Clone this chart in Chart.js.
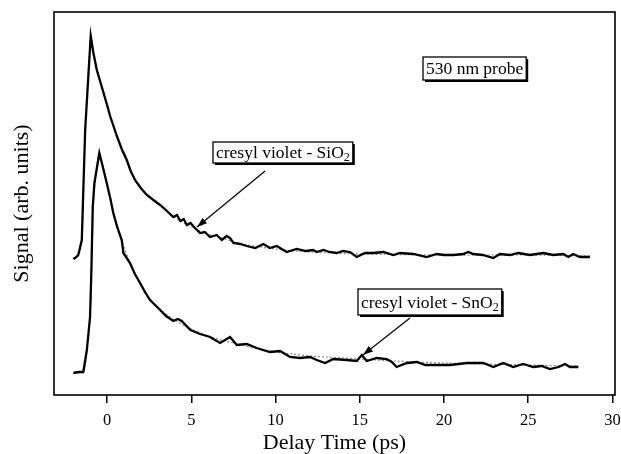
<!DOCTYPE html>
<html>
<head>
<meta charset="utf-8">
<script src="https://cdn.jsdelivr.net/npm/chart.js@4/dist/chart.umd.min.js"></script>
<style>
  html, body { margin: 0; padding: 0; background: #fff; }
  canvas { display: block; }
</style>
</head>
<body>
<canvas id="chart" width="621" height="454"></canvas>
<script>
// Delay times (ps) and signals (arb. units)
const sio2Time = [-2.0, -1.9, -1.71, -1.5, -1.3, -0.97, -0.81, -0.61, -0.31, 0.0, 0.18, 0.4, 0.58, 0.87, 1.17, 1.4,
  1.66, 2.0, 2.36, 2.75, 3.15, 3.55, 3.93, 4.15, 4.35, 4.55, 4.73, 4.95, 5.22, 5.52, 5.8, 6.11, 6.51, 6.81, 7.1,
  7.3, 7.5, 7.9, 8.29, 8.8, 9.28, 9.67, 10.07, 10.66, 11.26, 11.8, 12.24, 12.45, 12.84, 13.2, 13.63, 14.0, 14.42,
  14.82, 15.31, 15.8, 16.4, 16.99, 17.39, 18.18, 18.97, 19.57, 20.0, 20.55, 21.15, 21.44, 21.74, 22.3, 22.93, 23.32,
  23.92, 24.41, 25.1, 25.5, 25.89, 26.49, 27.08, 27.38, 27.67, 28.07, 28.66];
const sio2Signal = [136, 137, 140, 155, 265, 359, 342, 325, 308, 290, 279, 268, 259, 246, 235, 224,
  215, 207, 200, 195, 190, 184, 178, 180, 174, 176, 170, 172, 167, 162, 163, 158, 160, 155, 159,
  157, 152, 151, 149, 147, 151, 147, 149, 143, 146, 144, 145, 143, 145, 143, 142, 144, 143,
  138, 142, 142, 143, 140, 142, 141, 138, 141, 140, 140, 141, 143, 141, 140, 137, 141,
  140, 142, 140, 141, 142, 140, 141, 138, 141, 138, 138];

const sno2Time = [-2.0, -1.7, -1.41, -1.2, -1.01, -0.93, -0.85, -0.75, -0.46, -0.25, -0.02, 0.2, 0.37, 0.6, 0.87,
  0.97, 1.36, 1.65, 1.96, 2.25, 2.55, 3.15, 3.5, 3.93, 4.2, 4.43, 4.95, 5.52, 5.92, 6.11, 6.71, 7.3, 7.7, 8.29, 8.88,
  9.67, 10.27, 10.86, 11.45, 12.05, 12.45, 12.94, 13.43, 14.23, 14.82, 15.12, 15.41, 16.01, 16.6, 16.9, 17.19, 17.8,
  18.38, 18.9, 19.37, 20.36, 21.35, 22.33, 22.93, 23.52, 24.11, 24.7, 25.3, 25.8, 26.29, 26.8, 27.18, 27.48, 27.97];
const sno2Signal = [22, 23, 23, 45, 78, 125, 188, 212, 242, 228, 212, 196, 182, 168, 155,
  142, 132, 121, 112, 103, 95, 85, 79, 74, 76, 74, 65, 61, 59, 58, 52, 58, 50, 51, 47,
  43, 44, 38, 37, 38, 35, 32, 36, 35, 34, 40, 34, 37, 36, 33, 28, 32,
  33, 30, 30, 30, 32, 32, 28, 32, 28, 31, 28, 29, 26, 28, 31, 28, 28];

// Fitted curves (dotted)
const sio2FitTime = [-2.0, -1.7, -1.5, -1.3, -0.97, -0.8, -0.3, 0.2, 0.9, 1.7, 2.4, 3.2, 4.0, 5.0, 6.0, 7.0, 8.0,
  10.0, 12.0, 15.0, 20.0, 25.0, 28.7];
const sio2FitSignal = [137, 139, 155, 265, 357, 342, 308, 278, 244, 214, 200, 189, 178, 168, 161, 156, 151,
  146, 143, 141, 140, 140, 139];
const sno2FitTime = [-2.0, -1.4, -1.2, -1.0, -0.9, -0.8, -0.7, -0.46, 0.0, 0.4, 0.9, 1.4, 2.0, 2.6, 3.2, 4.0, 5.0,
  6.0, 7.0, 8.0, 9.0, 10.0, 11.0, 12.0, 13.0, 14.0, 15.0, 17.0, 20.0, 25.0, 28.0];
const sno2FitSignal = [22, 23, 46, 80, 140, 195, 215, 240, 210, 181, 153, 131, 111, 95, 85, 75, 66,
  59, 54, 50, 46, 43, 41, 39, 38, 37, 36, 34, 32, 30, 29];

const xTicks = [0, 5, 10, 15, 20, 25, 30];

// Boxed labels and arrows, anchored in data coordinates
const notes = [
  { text: '530 nm probe', sub: '', x: 21.84, y: 326.5, h: 23 },
  { text: 'cresyl violet - SiO', sub: '2', x: 10.42, y: 243, h: 21 },
  { text: 'cresyl violet - SnO', sub: '2', x: 19.14, y: 93, h: 26 }
];
const arrows = [
  { from: [9.38, 224], to: [5.34, 168] },
  { from: [17.98, 77], to: [15.19, 40] }
];

const serif = "'Liberation Serif', 'DejaVu Serif', serif";

function toPoints(xs, ys) {
  return xs.map((x, i) => ({ x: x, y: ys[i] }));
}

const notesPlugin = {
  id: 'notes',
  afterDatasetsDraw(chart) {
    const { ctx, chartArea: a, scales } = chart;
    const sx = scales.x, sy = scales.y;
    ctx.save();

    // frame around plot
    ctx.strokeStyle = '#000';
    ctx.lineWidth = 1.6;
    ctx.strokeRect(a.left, a.top, a.right - a.left, a.bottom - a.top);

    // arrows
    arrows.forEach(ar => {
      const x0 = sx.getPixelForValue(ar.from[0]), y0 = sy.getPixelForValue(ar.from[1]);
      const x1 = sx.getPixelForValue(ar.to[0]), y1 = sy.getPixelForValue(ar.to[1]);
      const ang = Math.atan2(y1 - y0, x1 - x0);
      ctx.lineWidth = 1.2;
      ctx.beginPath();
      ctx.moveTo(x0, y0);
      ctx.lineTo(x1, y1);
      ctx.stroke();
      ctx.beginPath();
      ctx.moveTo(x1, y1);
      ctx.lineTo(x1 - 10 * Math.cos(ang) + 3.5 * Math.sin(ang), y1 - 10 * Math.sin(ang) - 3.5 * Math.cos(ang));
      ctx.lineTo(x1 - 10 * Math.cos(ang) - 3.5 * Math.sin(ang), y1 - 10 * Math.sin(ang) + 3.5 * Math.cos(ang));
      ctx.closePath();
      ctx.fillStyle = '#000';
      ctx.fill();
    });

    // boxed labels with a small drop shadow
    notes.forEach(n => {
      ctx.font = '17.5px ' + serif;
      const w1 = ctx.measureText(n.text).width;
      ctx.font = '12px ' + serif;
      const w2 = n.sub ? ctx.measureText(n.sub).width : 0;
      const w = w1 + w2 + 6;
      const cx = sx.getPixelForValue(n.x), cy = sy.getPixelForValue(n.y);
      const left = Math.round(cx - w / 2), top = Math.round(cy - n.h / 2);
      ctx.fillStyle = '#000';
      ctx.fillRect(left + 2, top + 2, w, n.h);
      ctx.fillStyle = '#fff';
      ctx.fillRect(left, top, w, n.h);
      ctx.lineWidth = 1.3;
      ctx.strokeStyle = '#000';
      ctx.strokeRect(left, top, w, n.h);
      ctx.fillStyle = '#000';
      ctx.textBaseline = 'middle';
      ctx.textAlign = 'left';
      ctx.font = '17.5px ' + serif;
      ctx.fillText(n.text, left + 3, cy + 1);
      if (n.sub) {
        ctx.font = '12px ' + serif;
        ctx.fillText(n.sub, left + 3 + w1, cy + 6);
      }
    });

    ctx.restore();
  }
};

new Chart(document.getElementById('chart'), {
  type: 'line',
  data: {
    datasets: [
      {
        label: 'cresyl violet - SiO2',
        data: toPoints(sio2Time, sio2Signal),
        borderColor: '#000',
        borderWidth: 2.3,
        pointRadius: 0,
        tension: 0
      },
      {
        label: 'cresyl violet - SnO2',
        data: toPoints(sno2Time, sno2Signal),
        borderColor: '#000',
        borderWidth: 2.3,
        pointRadius: 0,
        tension: 0
      },
      {
        label: 'fit SiO2',
        data: toPoints(sio2FitTime, sio2FitSignal),
        borderColor: '#8a8a8a',
        borderWidth: 1.2,
        borderDash: [2, 2],
        pointRadius: 0,
        tension: 0.3
      },
      {
        label: 'fit SnO2',
        data: toPoints(sno2FitTime, sno2FitSignal),
        borderColor: '#8a8a8a',
        borderWidth: 1.2,
        borderDash: [2, 2],
        pointRadius: 0,
        tension: 0.3
      }
    ]
  },
  options: {
    responsive: false,
    animation: false,
    layout: { padding: { top: 12, right: 6, left: 11, bottom: 0 } },
    plugins: {
      legend: { display: false },
      tooltip: { enabled: false }
    },
    scales: {
      x: {
        type: 'linear',
        min: -3.15,
        max: 30.15,
        afterBuildTicks: s => { s.ticks = xTicks.map(v => ({ value: v })); },
        afterFit: s => {
          s.height = 59;
          // keep the last tick label from pushing the plot inward
          s.paddingLeft = 0;
          s.paddingRight = 0;
        },
        grid: { drawOnChartArea: false, drawTicks: true, tickLength: 8, color: '#000', lineWidth: 1.5 },
        border: { display: false },
        ticks: { color: '#000', font: { family: serif, size: 16.5 }, padding: 8, maxRotation: 0 },
        title: {
          display: true,
          text: 'Delay Time (ps)',
          color: '#000',
          font: { family: serif, size: 22, lineHeight: 1 },
          padding: 0
        }
      },
      y: {
        min: 0,
        max: 383,
        afterFit: s => { s.width = 43; },
        ticks: { display: false },
        grid: { display: false },
        border: { display: false },
        title: {
          display: true,
          text: 'Signal (arb. units)',
          color: '#000',
          font: { family: serif, size: 22, lineHeight: 1 },
          padding: 0
        }
      }
    }
  },
  plugins: [notesPlugin]
});
</script>
</body>
</html>
